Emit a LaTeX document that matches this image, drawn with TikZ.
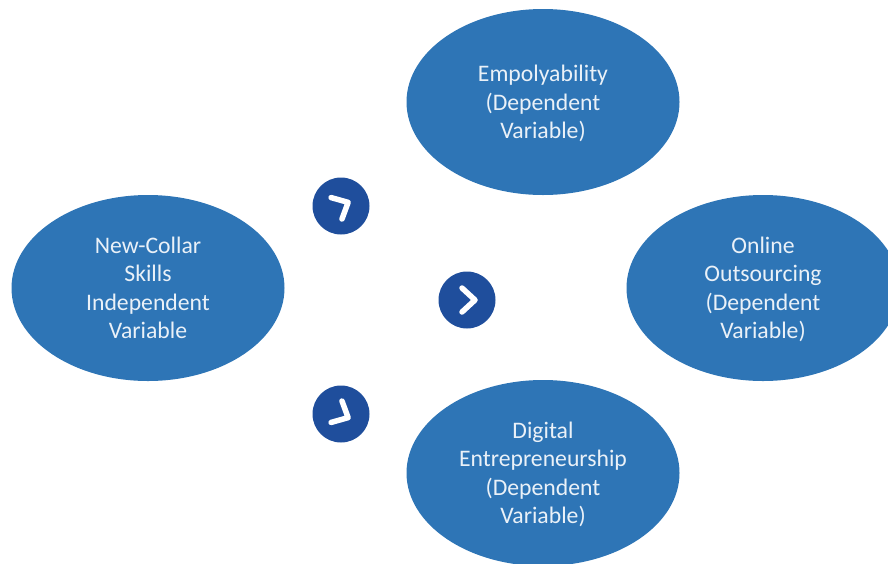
\documentclass[tikz,border=0pt]{standalone}
\usepackage{fontspec}
\setmainfont{Carlito}
\usepackage{xcolor}
\definecolor{ovalblue}{HTML}{2E75B6}
\definecolor{arrowblue}{HTML}{1F4E9C}
\usetikzlibrary{shapes.geometric}

\begin{document}
\begin{tikzpicture}[x=1pt,y=-1pt]
      \tikzstyle{oval}=[ellipse,fill=ovalblue,text=white!90!ovalblue,inner sep=0pt,minimum width=273pt,minimum height=186pt,align=center,font=\fontsize{23.7}{28.5}\selectfont]
      \tikzstyle{badge}=[circle,fill=arrowblue,inner sep=0pt,minimum size=57pt]
      \tikzstyle{chevron}=[draw=white,line width=5.5pt,line cap=round,line join=round]
      \path[use as bounding box,clip] (0,0) rectangle (888,563);
      \node[oval] (skills) at (148,288) {New-Collar\\Skills\\Independent\\Variable};
      \node[oval] (employ) at (543,102) {Empolyability\\(Dependent\\\smash{Variable)}};
      \node[oval] (outsource) at (763,288) {Online\\Outsourcing\\(Dependent\\\smash{Variable)}};
      \node[oval] (digital) at (543,473) {Digital\\Entrepreneurship\\(Dependent\\\smash{Variable)}};
      \node[badge] (up) at (341,206) {};
      \node[badge] (mid) at (467,300) {};
      \node[badge] (down) at (341,414) {};
      % chevrons, rotated about each badge
      \foreach \badge/\ang in {up/27,mid/0,down/-27}
        \draw[chevron,shift={(\badge.center)},rotate=\ang] (-5,-12) -- (8,0) -- (-5,12);
\end{tikzpicture}
\end{document}
